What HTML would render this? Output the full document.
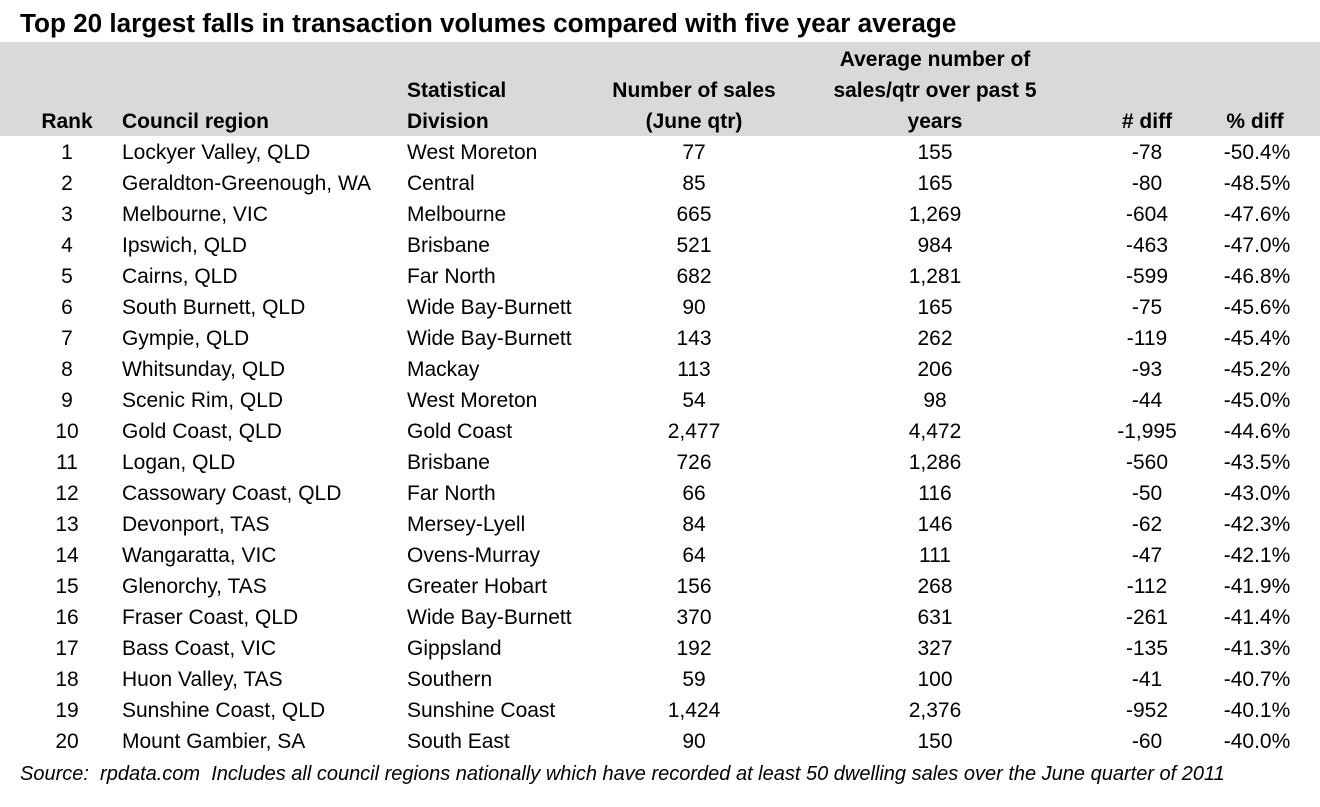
<!DOCTYPE html>
<html><head><meta charset="utf-8">
<style>
body{margin:0;width:1320px;height:807px;background:#fff;position:relative;overflow:hidden;font-family:"Liberation Sans",sans-serif;color:#000}
.t{position:absolute;white-space:nowrap;font-size:21px;line-height:22px}
.b{font-weight:bold}
.c{transform:translateX(-50%)}
#band{position:absolute;left:0;top:42px;width:1320px;height:94px;background:#d9d9d9}
</style></head><body>
<div class="t b" style="left:20px;top:9px;font-size:26.1px;line-height:28px">Top 20 largest falls in transaction volumes compared with five year average</div>
<div id="band"></div>
<div class="t b c" style="left:67px;top:111px">Rank</div>
<div class="t b" style="left:122px;top:111px">Council region</div>
<div class="t b" style="left:407px;top:75px;line-height:31px">Statistical<br>Division</div>
<div class="t b c" style="left:694px;top:75px;text-align:center;line-height:31px">Number of sales<br>(June qtr)</div>
<div class="t b c" style="left:935px;top:44px;text-align:center;line-height:31px">Average number of<br>sales/qtr over past 5<br>years</div>
<div class="t b c" style="left:1147px;top:111px">#&nbsp;diff</div>
<div class="t b c" style="left:1255px;top:111px">%&nbsp;diff</div>
<div id="rows"></div>
<div class="t" style="left:20px;top:763px;font-style:italic;font-size:20px">Source:&nbsp; rpdata.com&nbsp; Includes all council regions nationally which have recorded at least 50 dwelling sales over the June quarter of 2011</div>
<script>
const regions=["Lockyer Valley, QLD","Geraldton-Greenough, WA","Melbourne, VIC","Ipswich, QLD","Cairns, QLD","South Burnett, QLD","Gympie, QLD","Whitsunday, QLD","Scenic Rim, QLD","Gold Coast, QLD","Logan, QLD","Cassowary Coast, QLD","Devonport, TAS","Wangaratta, VIC","Glenorchy, TAS","Fraser Coast, QLD","Bass Coast, VIC","Huon Valley, TAS","Sunshine Coast, QLD","Mount Gambier, SA"];
const divisions=["West Moreton","Central","Melbourne","Brisbane","Far North","Wide Bay-Burnett","Wide Bay-Burnett","Mackay","West Moreton","Gold Coast","Brisbane","Far North","Mersey-Lyell","Ovens-Murray","Greater Hobart","Wide Bay-Burnett","Gippsland","Southern","Sunshine Coast","South East"];
const sales=[77,85,665,521,682,90,143,113,54,2477,726,66,84,64,156,370,192,59,1424,90];
const avg=[155,165,1269,984,1281,165,262,206,98,4472,1286,116,146,111,268,631,327,100,2376,150];
const diffs=["-78","-80","-604","-463","-599","-75","-119","-93","-44","-1,995","-560","-50","-62","-47","-112","-261","-135","-41","-952","-60"];
const pcts=["-50.4%","-48.5%","-47.6%","-47.0%","-46.8%","-45.6%","-45.4%","-45.2%","-45.0%","-44.6%","-43.5%","-43.0%","-42.3%","-42.1%","-41.9%","-41.4%","-41.3%","-40.7%","-40.1%","-40.0%"];
const fmt=n=>n.toLocaleString('en-US');
const host=document.getElementById('rows');
function cell(txt,x,y,cls,name){
  const d=document.createElement('div');
  d.className='t '+cls;
  d.style.left=x+'px';d.style.top=y+'px';
  d.textContent=txt;
  
  
  host.appendChild(d);
}
regions.forEach((r,i)=>{
  const y=142+31*i;
  cell(String(i+1),67,y,'c','rank-cell');
  cell(r,122,y,'','council-region-cell');
  cell(divisions[i],407,y,'','statistical-division-cell');
  cell(fmt(sales[i]),694,y,'c','number-of-sales-cell');
  cell(fmt(avg[i]),935,y,'c','average-sales-cell');
  cell(diffs[i],1147,y,'c','diff-cell');
  cell(pcts[i],1257,y,'c','pct-diff-cell');
});
</script>
</body></html>
